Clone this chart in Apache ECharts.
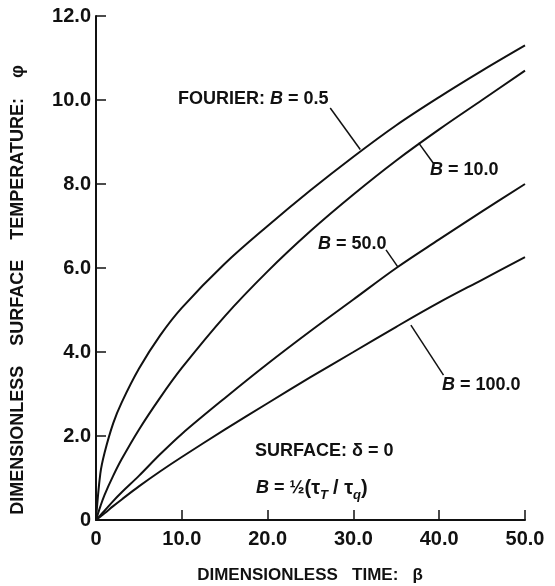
<!DOCTYPE html>
<html>
<head>
<meta charset="utf-8">
<script src="https://cdn.jsdelivr.net/npm/echarts@6/dist/echarts.min.js"></script>
<style>
  html, body { margin: 0; padding: 0; background: #fff; }
  #main { width: 555px; height: 586px; }
</style>
</head>
<body>
<div id="main"></div>
<script>
// dimensionless time beta
var beta = [0, 0.5, 1, 2, 3, 5, 7.5, 10, 15, 20, 25, 30, 35, 40, 45, 50];
// surface temperature phi for each B
var phiB05 = [0, 1.1, 1.6, 2.3, 2.8, 3.6, 4.4, 5.05, 6.1, 7.0, 7.85, 8.65, 9.4, 10.07, 10.7, 11.3];
var phiB10 = [0, 0.32, 0.6, 1.05, 1.45, 2.15, 2.92, 3.62, 4.85, 5.92, 6.88, 7.75, 8.56, 9.3, 10.0, 10.7];
var phiB50 = [0, 0.11, 0.22, 0.45, 0.66, 1.05, 1.57, 2.05, 2.9, 3.72, 4.5, 5.25, 6.0, 6.68, 7.35, 8.0];
var phiB100 = [0, 0.08, 0.16, 0.33, 0.49, 0.8, 1.16, 1.5, 2.15, 2.78, 3.4, 4.0, 4.6, 5.18, 5.72, 6.26];

// leader lines from label to curve, in data units [beta, phi]
var leaderB05 = [[27.3, 9.81], [30.8, 8.82]];
var leaderB10 = [[37.6, 8.98], [39.3, 8.5]];
var leaderB50 = [[33.8, 6.43], [35.2, 6.02]];
var leaderB100 = [[36.7, 4.64], [40.5, 3.45]];

var font = "'Liberation Sans', Arial, sans-serif";
var ink = '#111';

function pairs(ys) {
    return beta.map(function (b, i) { return [b, ys[i]]; });
}

function curve(name, ys, leader) {
    return {
        name: name,
        type: 'line',
        data: pairs(ys),
        showSymbol: false,
        smooth: 0.35,
        lineStyle: { color: ink, width: 2 },
        markLine: {
            silent: true,
            symbol: 'none',
            label: { show: false },
            lineStyle: { color: ink, width: 1.5, type: 'solid' },
            data: [[{ coord: leader[0] }, { coord: leader[1] }]]
        }
    };
}

function tickText(v) {
    return v === 0 ? '0' : v.toFixed(1);
}

var rich = {
    i: { fontStyle: 'italic', fontWeight: 'bold', fontSize: 18, fontFamily: font, fill: ink },
    t: { fontWeight: 'bold', fontSize: 20, fontFamily: font, fill: ink },
    s: {
        fontStyle: 'italic', fontWeight: 'bold', fontSize: 13,
        fontFamily: font, fill: ink, verticalAlign: 'bottom', lineHeight: 28
    }
};

function label(x, y, text) {
    return {
        type: 'text', x: x, y: y,
        style: {
            text: text, font: 'bold 18px ' + font, fill: ink, rich: rich,
            align: 'left', verticalAlign: 'middle'
        }
    };
}

var chart = echarts.init(document.getElementById('main'));
var option = {
    animation: false,
    backgroundColor: '#fff',
    grid: { left: 96, right: 30, top: 16, bottom: 66 },
    xAxis: {
        type: 'value',
        min: 0,
        max: 50,
        interval: 10,
        splitLine: { show: false },
        axisLine: { onZero: false, lineStyle: { color: ink, width: 2 } },
        axisTick: { inside: true, length: 10, lineStyle: { color: ink, width: 1.5 } },
        axisLabel: {
            margin: 9, color: ink, fontSize: 20, fontWeight: 'bold', fontFamily: font,
            formatter: tickText
        }
    },
    yAxis: {
        type: 'value',
        min: 0,
        max: 12,
        interval: 2,
        splitLine: { show: false },
        axisLine: { show: true, onZero: false, lineStyle: { color: ink, width: 2 } },
        axisTick: { show: true, inside: true, length: 10, lineStyle: { color: ink, width: 1.5 } },
        axisLabel: {
            margin: 5, color: ink, fontSize: 20, fontWeight: 'bold', fontFamily: font,
            formatter: tickText
        }
    },
    series: [
        curve('B = 0.5', phiB05, leaderB05),
        curve('B = 10.0', phiB10, leaderB10),
        curve('B = 50.0', phiB50, leaderB50),
        curve('B = 100.0', phiB100, leaderB100)
    ],
    graphic: [
        {
            type: 'text', x: 18, y: 290, rotation: Math.PI / 2,
            style: {
                text: 'DIMENSIONLESS    SURFACE    TEMPERATURE:    φ',
                font: 'bold 18px ' + font, fill: ink,
                align: 'center', verticalAlign: 'middle'
            }
        },
        {
            type: 'text', x: 310, y: 575,
            style: {
                text: 'DIMENSIONLESS   TIME:   β',
                font: 'bold 17px ' + font, fill: ink,
                align: 'center', verticalAlign: 'middle'
            }
        },
        label(178, 99, 'FOURIER: {i|B} = 0.5'),
        label(430, 170, '{i|B} = 10.0'),
        label(318, 244, '{i|B} = 50.0'),
        label(442, 385, '{i|B} = 100.0'),
        label(255, 451, 'SURFACE: δ = 0'),
        label(256, 488, '{i|B} = ½{t|(τ}{s|T} {t|/ τ}{s|q}{t|)}')
    ]
};
chart.setOption(option);
</script>
</body>
</html>
